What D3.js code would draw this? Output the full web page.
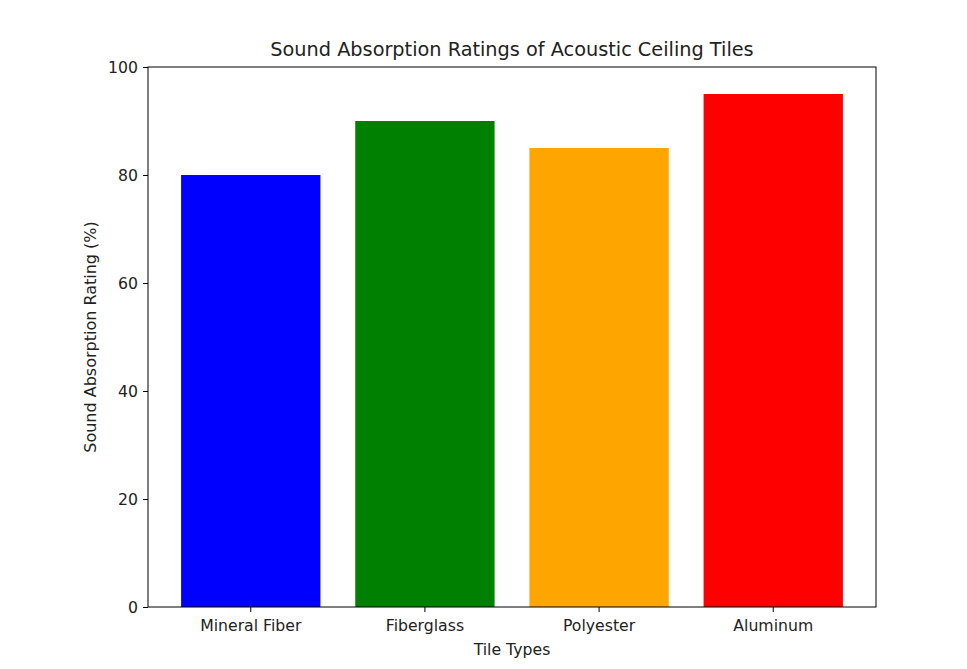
<!DOCTYPE html>
<html>
<head>
<meta charset="utf-8">
<script src="https://cdn.jsdelivr.net/npm/d3@7"></script>
<style>
	body { margin: 0; background: #fff; }
	svg text { font-family: 'DejaVu Sans', sans-serif; fill: #000; }
</style>
</head>
<body>
<div id="canvas"></div>
<script>
const tileTypes = ['Mineral Fiber', 'Fiberglass', 'Polyester', 'Aluminum'];
const ratings = [80, 90, 85, 95];
const barColors = ['blue', 'green', 'orange', 'red'];
const yTicks = [0, 20, 40, 60, 80, 100];

const W = 967, H = 669;
const m = { top: 67, right: 91, bottom: 62, left: 148 };
const tickFont = '15.7px';

const svg = d3.select('#canvas')
	.append('svg')
		.attr('width', W)
		.attr('height', H);

const x = d3.scaleBand()
	.domain(tileTypes)
	.range([m.left, W - m.right])
	.paddingInner(0.2)
	.paddingOuter(0.19);

const y = d3.scaleLinear()
	.domain([0, 100])
	.range([H - m.bottom, m.top]);

const data = tileTypes.map((t, i) => ({ t, v: ratings[i], c: barColors[i] }));

svg.append('g')
	.selectAll('rect')
	.data(data)
	.join('rect')
		.attr('x', d => x(d.t))
		.attr('width', x.bandwidth())
		.attr('y', d => y(d.v))
		.attr('height', d => y(0) - y(d.v))
		.style('fill', d => d.c);

const xAxis = svg.append('g')
	.attr('transform', `translate(0,${H - m.bottom})`)
	.call(d3.axisBottom(x).tickSizeOuter(0).tickSize(5).tickPadding(8));

const yAxis = svg.append('g')
	.attr('transform', `translate(${m.left},0)`)
	.call(d3.axisLeft(y).tickValues(yTicks).tickSizeOuter(0).tickSize(5).tickPadding(5));

[xAxis, yAxis].forEach(a => {
	a.select('.domain').remove();
	a.selectAll('text').style('font-size', tickFont).style('font-family', "'DejaVu Sans', sans-serif").style('fill', '#222');
	a.selectAll('line').style('stroke', '#000').style('stroke-width', 1);
});

// frame
svg.append('rect')
	.attr('x', m.left)
	.attr('y', m.top)
	.attr('width', W - m.right - m.left)
	.attr('height', H - m.bottom - m.top)
	.style('fill', 'none')
	.style('stroke', '#000')
	.style('stroke-width', 1);

svg.append('text')
	.attr('x', (m.left + W - m.right) / 2)
	.attr('y', 56)
	.attr('text-anchor', 'middle')
	.style('font-size', '19.3px')
	.style('fill', '#222')
	.text('Sound Absorption Ratings of Acoustic Ceiling Tiles');

svg.append('text')
	.attr('x', (m.left + W - m.right) / 2)
	.attr('y', 655)
	.attr('text-anchor', 'middle')
	.style('font-size', tickFont)
	.style('fill', '#222')
	.text('Tile Types');

svg.append('text')
	.attr('transform', `translate(96,${(m.top + H - m.bottom) / 2})rotate(-90)`)
	.attr('text-anchor', 'middle')
	.style('font-size', '16px')
	.style('fill', '#222')
	.text('Sound Absorption Rating (%)');
</script>
</body>
</html>
